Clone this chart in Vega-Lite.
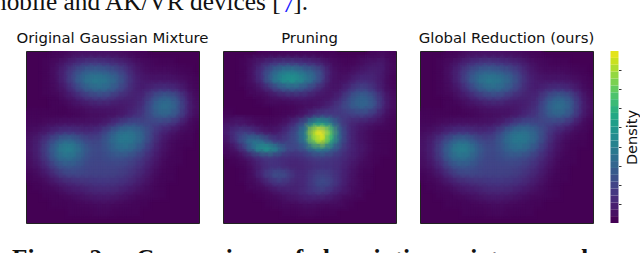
{"$schema":"https://vega.github.io/schema/vega-lite/v6.json","autosize":"none","padding":{"left":26,"top":51,"right":614,"bottom":202},"background":"white",
"config":{"view":{"fill":"#440154","stroke":"#222","strokeWidth":1},"title":{"font":"DejaVu Sans","fontWeight":"normal","fontSize":14.9,"color":"#111","offset":5}},
"datasets":{
"a":[{"x":3,"y":0,"v":1},{"x":4,"y":0,"v":2},{"x":5,"y":0,"v":4},{"x":6,"y":0,"v":5},{"x":7,"y":0,"v":5},{"x":8,"y":0,"v":5},{"x":9,"y":0,"v":5},{"x":10,"y":0,"v":4},{"x":11,"y":0,"v":3},{"x":12,"y":0,"v":2},{"x":13,"y":0,"v":1},
{"x":2,"y":1,"v":1},{"x":3,"y":1,"v":3},{"x":4,"y":1,"v":7},{"x":5,"y":1,"v":11},{"x":6,"y":1,"v":15},{"x":7,"y":1,"v":17},{"x":8,"y":1,"v":17},{"x":9,"y":1,"v":15},{"x":10,"y":1,"v":13},{"x":11,"y":1,"v":10},{"x":12,"y":1,"v":6},{"x":13,"y":1,"v":3},{"x":14,"y":1,"v":2},{"x":15,"y":1,"v":1},{"x":16,"y":1,"v":1},
{"x":2,"y":2,"v":1},{"x":3,"y":2,"v":5},{"x":4,"y":2,"v":11},{"x":5,"y":2,"v":20},{"x":6,"y":2,"v":28},{"x":7,"y":2,"v":32},{"x":8,"y":2,"v":32},{"x":9,"y":2,"v":29},{"x":10,"y":2,"v":24},{"x":11,"y":2,"v":17},{"x":12,"y":2,"v":9},{"x":13,"y":2,"v":5},{"x":14,"y":2,"v":3},{"x":15,"y":2,"v":3},{"x":16,"y":2,"v":3},{"x":17,"y":2,"v":2},{"x":18,"y":2,"v":1},
{"x":2,"y":3,"v":1},{"x":3,"y":3,"v":4},{"x":4,"y":3,"v":11},{"x":5,"y":3,"v":22},{"x":6,"y":3,"v":33},{"x":7,"y":3,"v":40},{"x":8,"y":3,"v":41},{"x":9,"y":3,"v":38},{"x":10,"y":3,"v":31},{"x":11,"y":3,"v":21},{"x":12,"y":3,"v":11},{"x":13,"y":3,"v":7},{"x":14,"y":3,"v":6},{"x":15,"y":3,"v":6},{"x":16,"y":3,"v":6},{"x":17,"y":3,"v":5},{"x":18,"y":3,"v":3},{"x":19,"y":3,"v":1},
{"x":2,"y":4,"v":1},{"x":3,"y":4,"v":3},{"x":4,"y":4,"v":7},{"x":5,"y":4,"v":15},{"x":6,"y":4,"v":24},{"x":7,"y":4,"v":31},{"x":8,"y":4,"v":34},{"x":9,"y":4,"v":32},{"x":10,"y":4,"v":25},{"x":11,"y":4,"v":17},{"x":12,"y":4,"v":10},{"x":13,"y":4,"v":8},{"x":14,"y":4,"v":11},{"x":15,"y":4,"v":14},{"x":16,"y":4,"v":14},{"x":17,"y":4,"v":11},{"x":18,"y":4,"v":6},{"x":19,"y":4,"v":2},
{"x":3,"y":5,"v":1},{"x":4,"y":5,"v":4},{"x":5,"y":5,"v":7},{"x":6,"y":5,"v":12},{"x":7,"y":5,"v":16},{"x":8,"y":5,"v":18},{"x":9,"y":5,"v":17},{"x":10,"y":5,"v":13},{"x":11,"y":5,"v":10},{"x":12,"y":5,"v":9},{"x":13,"y":5,"v":11},{"x":14,"y":5,"v":20},{"x":15,"y":5,"v":29},{"x":16,"y":5,"v":31},{"x":17,"y":5,"v":24},{"x":18,"y":5,"v":12},{"x":19,"y":5,"v":3},
{"x":3,"y":6,"v":1},{"x":4,"y":6,"v":1},{"x":5,"y":6,"v":3},{"x":6,"y":6,"v":4},{"x":7,"y":6,"v":6},{"x":8,"y":6,"v":7},{"x":9,"y":6,"v":7},{"x":10,"y":6,"v":6},{"x":11,"y":6,"v":7},{"x":12,"y":6,"v":9},{"x":13,"y":6,"v":14},{"x":14,"y":6,"v":26},{"x":15,"y":6,"v":36},{"x":16,"y":6,"v":37},{"x":17,"y":6,"v":29},{"x":18,"y":6,"v":14},{"x":19,"y":6,"v":4},
{"x":0,"y":7,"v":1},{"x":1,"y":7,"v":1},{"x":2,"y":7,"v":1},{"x":3,"y":7,"v":1},{"x":4,"y":7,"v":1},{"x":5,"y":7,"v":1},{"x":6,"y":7,"v":2},{"x":7,"y":7,"v":3},{"x":8,"y":7,"v":3},{"x":9,"y":7,"v":4},{"x":10,"y":7,"v":5},{"x":11,"y":7,"v":8},{"x":12,"y":7,"v":12},{"x":13,"y":7,"v":16},{"x":14,"y":7,"v":24},{"x":15,"y":7,"v":31},{"x":16,"y":7,"v":31},{"x":17,"y":7,"v":24},{"x":18,"y":7,"v":12},{"x":19,"y":7,"v":3},
{"x":0,"y":8,"v":2},{"x":1,"y":8,"v":2},{"x":2,"y":8,"v":3},{"x":3,"y":8,"v":4},{"x":4,"y":8,"v":5},{"x":5,"y":8,"v":5},{"x":6,"y":8,"v":5},{"x":7,"y":8,"v":5},{"x":8,"y":8,"v":6},{"x":9,"y":8,"v":9},{"x":10,"y":8,"v":15},{"x":11,"y":8,"v":21},{"x":12,"y":8,"v":23},{"x":13,"y":8,"v":21},{"x":14,"y":8,"v":20},{"x":15,"y":8,"v":19},{"x":16,"y":8,"v":17},{"x":17,"y":8,"v":12},{"x":18,"y":8,"v":5},{"x":19,"y":8,"v":1},
{"x":0,"y":9,"v":3},{"x":1,"y":9,"v":5},{"x":2,"y":9,"v":8},{"x":3,"y":9,"v":12},{"x":4,"y":9,"v":15},{"x":5,"y":9,"v":15},{"x":6,"y":9,"v":13},{"x":7,"y":9,"v":12},{"x":8,"y":9,"v":15},{"x":9,"y":9,"v":23},{"x":10,"y":9,"v":33},{"x":11,"y":9,"v":38},{"x":12,"y":9,"v":37},{"x":13,"y":9,"v":30},{"x":14,"y":9,"v":20},{"x":15,"y":9,"v":12},{"x":16,"y":9,"v":8},{"x":17,"y":9,"v":4},{"x":18,"y":9,"v":2},
{"x":0,"y":10,"v":5},{"x":1,"y":10,"v":9},{"x":2,"y":10,"v":17},{"x":3,"y":10,"v":27},{"x":4,"y":10,"v":34},{"x":5,"y":10,"v":33},{"x":6,"y":10,"v":26},{"x":7,"y":10,"v":20},{"x":8,"y":10,"v":21},{"x":9,"y":10,"v":29},{"x":10,"y":10,"v":38},{"x":11,"y":10,"v":41},{"x":12,"y":10,"v":38},{"x":13,"y":10,"v":30},{"x":14,"y":10,"v":18},{"x":15,"y":10,"v":9},{"x":16,"y":10,"v":4},{"x":17,"y":10,"v":2},{"x":18,"y":10,"v":1},
{"x":0,"y":11,"v":5},{"x":1,"y":11,"v":10},{"x":2,"y":11,"v":21},{"x":3,"y":11,"v":34},{"x":4,"y":11,"v":43},{"x":5,"y":11,"v":42},{"x":6,"y":11,"v":33},{"x":7,"y":11,"v":24},{"x":8,"y":11,"v":22},{"x":9,"y":11,"v":27},{"x":10,"y":11,"v":33},{"x":11,"y":11,"v":35},{"x":12,"y":11,"v":31},{"x":13,"y":11,"v":23},{"x":14,"y":11,"v":14},{"x":15,"y":11,"v":7},{"x":16,"y":11,"v":3},{"x":17,"y":11,"v":1},
{"x":0,"y":12,"v":4},{"x":1,"y":12,"v":9},{"x":2,"y":12,"v":18},{"x":3,"y":12,"v":30},{"x":4,"y":12,"v":37},{"x":5,"y":12,"v":36},{"x":6,"y":12,"v":29},{"x":7,"y":12,"v":22},{"x":8,"y":12,"v":21},{"x":9,"y":12,"v":23},{"x":10,"y":12,"v":25},{"x":11,"y":12,"v":24},{"x":12,"y":12,"v":21},{"x":13,"y":12,"v":16},{"x":14,"y":12,"v":10},{"x":15,"y":12,"v":5},{"x":16,"y":12,"v":2},{"x":17,"y":12,"v":1},
{"x":0,"y":13,"v":3},{"x":1,"y":13,"v":6},{"x":2,"y":13,"v":12},{"x":3,"y":13,"v":21},{"x":4,"y":13,"v":27},{"x":5,"y":13,"v":27},{"x":6,"y":13,"v":23},{"x":7,"y":13,"v":20},{"x":8,"y":13,"v":20},{"x":9,"y":13,"v":20},{"x":10,"y":13,"v":20},{"x":11,"y":13,"v":19},{"x":12,"y":13,"v":16},{"x":13,"y":13,"v":12},{"x":14,"y":13,"v":7},{"x":15,"y":13,"v":3},{"x":16,"y":13,"v":1},
{"x":0,"y":14,"v":1},{"x":1,"y":14,"v":3},{"x":2,"y":14,"v":7},{"x":3,"y":14,"v":13},{"x":4,"y":14,"v":18},{"x":5,"y":14,"v":20},{"x":6,"y":14,"v":20},{"x":7,"y":14,"v":19},{"x":8,"y":14,"v":19},{"x":9,"y":14,"v":19},{"x":10,"y":14,"v":18},{"x":11,"y":14,"v":16},{"x":12,"y":14,"v":13},{"x":13,"y":14,"v":9},{"x":14,"y":14,"v":5},{"x":15,"y":14,"v":2},{"x":16,"y":14,"v":1},
{"x":1,"y":15,"v":1},{"x":2,"y":15,"v":3},{"x":3,"y":15,"v":6},{"x":4,"y":15,"v":9},{"x":5,"y":15,"v":11},{"x":6,"y":15,"v":13},{"x":7,"y":15,"v":14},{"x":8,"y":15,"v":15},{"x":9,"y":15,"v":15},{"x":10,"y":15,"v":14},{"x":11,"y":15,"v":12},{"x":12,"y":15,"v":9},{"x":13,"y":15,"v":6},{"x":14,"y":15,"v":3},{"x":15,"y":15,"v":1},
{"x":2,"y":16,"v":1},{"x":3,"y":16,"v":2},{"x":4,"y":16,"v":4},{"x":5,"y":16,"v":6},{"x":6,"y":16,"v":7},{"x":7,"y":16,"v":9},{"x":8,"y":16,"v":10},{"x":9,"y":16,"v":10},{"x":10,"y":16,"v":9},{"x":11,"y":16,"v":7},{"x":12,"y":16,"v":5},{"x":13,"y":16,"v":3},{"x":14,"y":16,"v":2},{"x":15,"y":16,"v":1},
{"x":3,"y":17,"v":1},{"x":4,"y":17,"v":1},{"x":5,"y":17,"v":2},{"x":6,"y":17,"v":3},{"x":7,"y":17,"v":4},{"x":8,"y":17,"v":5},{"x":9,"y":17,"v":5},{"x":10,"y":17,"v":4},{"x":11,"y":17,"v":3},{"x":12,"y":17,"v":2},{"x":13,"y":17,"v":1},
{"x":5,"y":18,"v":1},{"x":6,"y":18,"v":1},{"x":7,"y":18,"v":1},{"x":8,"y":18,"v":2},{"x":9,"y":18,"v":2},{"x":10,"y":18,"v":1},{"x":11,"y":18,"v":1},{"x":12,"y":18,"v":1}],
"b":[{"x":4,"y":0,"v":1},{"x":5,"y":0,"v":2},{"x":6,"y":0,"v":2},{"x":7,"y":0,"v":2},{"x":8,"y":0,"v":2},{"x":9,"y":0,"v":2},{"x":10,"y":0,"v":2},{"x":11,"y":0,"v":1},{"x":12,"y":0,"v":1},{"x":17,"y":0,"v":2},{"x":18,"y":0,"v":3},{"x":19,"y":0,"v":1},
{"x":2,"y":1,"v":1},{"x":3,"y":1,"v":4},{"x":4,"y":1,"v":9},{"x":5,"y":1,"v":14},{"x":6,"y":1,"v":17},{"x":7,"y":1,"v":18},{"x":8,"y":1,"v":17},{"x":9,"y":1,"v":15},{"x":10,"y":1,"v":13},{"x":11,"y":1,"v":9},{"x":12,"y":1,"v":4},{"x":13,"y":1,"v":2},{"x":14,"y":1,"v":1},{"x":15,"y":1,"v":2},{"x":16,"y":1,"v":4},{"x":17,"y":1,"v":6},{"x":18,"y":1,"v":7},{"x":19,"y":1,"v":2},
{"x":2,"y":2,"v":1},{"x":3,"y":2,"v":6},{"x":4,"y":2,"v":15},{"x":5,"y":2,"v":28},{"x":6,"y":2,"v":38},{"x":7,"y":2,"v":44},{"x":8,"y":2,"v":42},{"x":9,"y":2,"v":36},{"x":10,"y":2,"v":30},{"x":11,"y":2,"v":20},{"x":12,"y":2,"v":7},{"x":13,"y":2,"v":3},{"x":14,"y":2,"v":3},{"x":15,"y":2,"v":6},{"x":16,"y":2,"v":8},{"x":17,"y":2,"v":9},{"x":18,"y":2,"v":7},{"x":19,"y":2,"v":2},
{"x":2,"y":3,"v":1},{"x":3,"y":3,"v":5},{"x":4,"y":3,"v":14},{"x":5,"y":3,"v":30},{"x":6,"y":3,"v":44},{"x":7,"y":3,"v":52},{"x":8,"y":3,"v":50},{"x":9,"y":3,"v":42},{"x":10,"y":3,"v":33},{"x":11,"y":3,"v":19},{"x":12,"y":3,"v":6},{"x":13,"y":3,"v":4},{"x":14,"y":3,"v":6},{"x":15,"y":3,"v":11},{"x":16,"y":3,"v":12},{"x":17,"y":3,"v":10},{"x":18,"y":3,"v":6},{"x":19,"y":3,"v":1},
{"x":3,"y":4,"v":2},{"x":4,"y":4,"v":6},{"x":5,"y":4,"v":13},{"x":6,"y":4,"v":22},{"x":7,"y":4,"v":28},{"x":8,"y":4,"v":28},{"x":9,"y":4,"v":23},{"x":10,"y":4,"v":16},{"x":11,"y":4,"v":9},{"x":12,"y":4,"v":5},{"x":13,"y":4,"v":6},{"x":14,"y":4,"v":12},{"x":15,"y":4,"v":19},{"x":16,"y":4,"v":20},{"x":17,"y":4,"v":14},{"x":18,"y":4,"v":7},{"x":19,"y":4,"v":2},
{"x":4,"y":5,"v":1},{"x":5,"y":5,"v":3},{"x":6,"y":5,"v":5},{"x":7,"y":5,"v":7},{"x":8,"y":5,"v":8},{"x":9,"y":5,"v":8},{"x":10,"y":5,"v":6},{"x":11,"y":5,"v":5},{"x":12,"y":5,"v":6},{"x":13,"y":5,"v":11},{"x":14,"y":5,"v":21},{"x":15,"y":5,"v":30},{"x":16,"y":5,"v":32},{"x":17,"y":5,"v":24},{"x":18,"y":5,"v":12},{"x":19,"y":5,"v":3},
{"x":6,"y":6,"v":1},{"x":7,"y":6,"v":1},{"x":8,"y":6,"v":2},{"x":9,"y":6,"v":3},{"x":10,"y":6,"v":4},{"x":11,"y":6,"v":7},{"x":12,"y":6,"v":11},{"x":13,"y":6,"v":17},{"x":14,"y":6,"v":24},{"x":15,"y":6,"v":31},{"x":16,"y":6,"v":32},{"x":17,"y":6,"v":25},{"x":18,"y":6,"v":12},{"x":19,"y":6,"v":3},
{"x":0,"y":7,"v":1},{"x":6,"y":7,"v":1},{"x":7,"y":7,"v":2},{"x":8,"y":7,"v":3},{"x":9,"y":7,"v":7},{"x":10,"y":7,"v":14},{"x":11,"y":7,"v":18},{"x":12,"y":7,"v":17},{"x":13,"y":7,"v":16},{"x":14,"y":7,"v":17},{"x":15,"y":7,"v":19},{"x":16,"y":7,"v":19},{"x":17,"y":7,"v":14},{"x":18,"y":7,"v":7},{"x":19,"y":7,"v":2},
{"x":0,"y":8,"v":5},{"x":1,"y":8,"v":6},{"x":2,"y":8,"v":5},{"x":3,"y":8,"v":3},{"x":4,"y":8,"v":2},{"x":5,"y":8,"v":2},{"x":6,"y":8,"v":3},{"x":7,"y":8,"v":7},{"x":8,"y":8,"v":15},{"x":9,"y":8,"v":28},{"x":10,"y":8,"v":50},{"x":11,"y":8,"v":56},{"x":12,"y":8,"v":42},{"x":13,"y":8,"v":22},{"x":14,"y":8,"v":13},{"x":15,"y":8,"v":9},{"x":16,"y":8,"v":7},{"x":17,"y":8,"v":5},{"x":18,"y":8,"v":3},{"x":19,"y":8,"v":1},
{"x":0,"y":9,"v":8},{"x":1,"y":9,"v":15},{"x":2,"y":9,"v":18},{"x":3,"y":9,"v":15},{"x":4,"y":9,"v":9},{"x":5,"y":9,"v":6},{"x":6,"y":9,"v":8},{"x":7,"y":9,"v":15},{"x":8,"y":9,"v":24},{"x":9,"y":9,"v":42},{"x":10,"y":9,"v":90},{"x":11,"y":9,"v":100},{"x":12,"y":9,"v":74},{"x":13,"y":9,"v":32},{"x":14,"y":9,"v":14},{"x":15,"y":9,"v":7},{"x":16,"y":9,"v":4},{"x":17,"y":9,"v":2},{"x":18,"y":9,"v":1},
{"x":0,"y":10,"v":5},{"x":1,"y":10,"v":15},{"x":2,"y":10,"v":28},{"x":3,"y":10,"v":38},{"x":4,"y":10,"v":34},{"x":5,"y":10,"v":22},{"x":6,"y":10,"v":15},{"x":7,"y":10,"v":18},{"x":8,"y":10,"v":24},{"x":9,"y":10,"v":40},{"x":10,"y":10,"v":80},{"x":11,"y":10,"v":92},{"x":12,"y":10,"v":64},{"x":13,"y":10,"v":30},{"x":14,"y":10,"v":14},{"x":15,"y":10,"v":7},{"x":16,"y":10,"v":4},{"x":17,"y":10,"v":2},{"x":18,"y":10,"v":1},
{"x":0,"y":11,"v":2},{"x":1,"y":11,"v":6},{"x":2,"y":11,"v":16},{"x":3,"y":11,"v":34},{"x":4,"y":11,"v":50},{"x":5,"y":11,"v":52},{"x":6,"y":11,"v":38},{"x":7,"y":11,"v":22},{"x":8,"y":11,"v":20},{"x":9,"y":11,"v":26},{"x":10,"y":11,"v":38},{"x":11,"y":11,"v":42},{"x":12,"y":11,"v":33},{"x":13,"y":11,"v":21},{"x":14,"y":11,"v":12},{"x":15,"y":11,"v":8},{"x":16,"y":11,"v":5},{"x":17,"y":11,"v":2},{"x":18,"y":11,"v":1},
{"x":1,"y":12,"v":1},{"x":2,"y":12,"v":4},{"x":3,"y":12,"v":9},{"x":4,"y":12,"v":14},{"x":5,"y":12,"v":16},{"x":6,"y":12,"v":14},{"x":7,"y":12,"v":12},{"x":8,"y":12,"v":12},{"x":9,"y":12,"v":14},{"x":10,"y":12,"v":17},{"x":11,"y":12,"v":18},{"x":12,"y":12,"v":16},{"x":13,"y":12,"v":14},{"x":14,"y":12,"v":10},{"x":15,"y":12,"v":7},{"x":16,"y":12,"v":3},{"x":17,"y":12,"v":1},
{"x":2,"y":13,"v":1},{"x":3,"y":13,"v":5},{"x":4,"y":13,"v":10},{"x":5,"y":13,"v":14},{"x":6,"y":13,"v":14},{"x":7,"y":13,"v":11},{"x":8,"y":13,"v":10},{"x":9,"y":13,"v":11},{"x":10,"y":13,"v":13},{"x":11,"y":13,"v":14},{"x":12,"y":13,"v":14},{"x":13,"y":13,"v":12},{"x":14,"y":13,"v":8},{"x":15,"y":13,"v":4},{"x":16,"y":13,"v":2},
{"x":2,"y":14,"v":1},{"x":3,"y":14,"v":4},{"x":4,"y":14,"v":12},{"x":5,"y":14,"v":20},{"x":6,"y":14,"v":25},{"x":7,"y":14,"v":20},{"x":8,"y":14,"v":12},{"x":9,"y":14,"v":12},{"x":10,"y":14,"v":17},{"x":11,"y":14,"v":20},{"x":12,"y":14,"v":17},{"x":13,"y":14,"v":12},{"x":14,"y":14,"v":7},{"x":15,"y":14,"v":3},{"x":16,"y":14,"v":1},
{"x":3,"y":15,"v":2},{"x":4,"y":15,"v":5},{"x":5,"y":15,"v":11},{"x":6,"y":15,"v":15},{"x":7,"y":15,"v":13},{"x":8,"y":15,"v":10},{"x":9,"y":15,"v":12},{"x":10,"y":15,"v":18},{"x":11,"y":15,"v":23},{"x":12,"y":15,"v":19},{"x":13,"y":15,"v":12},{"x":14,"y":15,"v":6},{"x":15,"y":15,"v":3},{"x":16,"y":15,"v":1},
{"x":4,"y":16,"v":1},{"x":5,"y":16,"v":3},{"x":6,"y":16,"v":6},{"x":7,"y":16,"v":8},{"x":8,"y":16,"v":9},{"x":9,"y":16,"v":12},{"x":10,"y":16,"v":15},{"x":11,"y":16,"v":16},{"x":12,"y":16,"v":12},{"x":13,"y":16,"v":8},{"x":14,"y":16,"v":5},{"x":15,"y":16,"v":2},
{"x":5,"y":17,"v":1},{"x":6,"y":17,"v":2},{"x":7,"y":17,"v":4},{"x":8,"y":17,"v":5},{"x":9,"y":17,"v":7},{"x":10,"y":17,"v":7},{"x":11,"y":17,"v":6},{"x":12,"y":17,"v":5},{"x":13,"y":17,"v":3},{"x":14,"y":17,"v":1},
{"x":7,"y":18,"v":1},{"x":8,"y":18,"v":1},{"x":9,"y":18,"v":2},{"x":10,"y":18,"v":2},{"x":11,"y":18,"v":1},{"x":12,"y":18,"v":1}],
"c":[{"v":0,"w":4},{"v":4,"w":8},{"v":8,"w":12},{"v":12,"w":16},{"v":16,"w":20},{"v":20,"w":24},{"v":24,"w":28},{"v":28,"w":32},{"v":32,"w":36},{"v":36,"w":40},{"v":40,"w":44},{"v":44,"w":48},{"v":48,"w":52},{"v":52,"w":56},{"v":56,"w":60},{"v":60,"w":64},{"v":64,"w":68},{"v":68,"w":72},{"v":72,"w":76},{"v":76,"w":80},{"v":80,"w":84},{"v":84,"w":88},{"v":88,"w":92},{"v":92,"w":96},{"v":96,"w":100}]},
"title":{"text":"mobile and AK/VR devices [\u2007].","orient":"top","anchor":"start","frame":"group","font":"Liberation Serif","fontSize":25.3,"color":"#111","dx":-39,"dy":23,"offset":0},
"vconcat":[{"title":{"text":"7","orient":"top","anchor":"start","frame":"group","font":"Liberation Serif","fontSize":25.3,"color":"#1a1aff","dx":256,"dy":-13,"offset":0},
"vconcat":[{"title":{"text":"Figure 2:\u2003Comparison\u2002of\u2002description\u2002mixture\u2002and","orient":"bottom","anchor":"start","frame":"group","font":"Liberation Serif","fontWeight":"bold","fontSize":25.3,"color":"#111","dx":-14,"dy":18},
"bounds":"flush","spacing":24,"hconcat":[
{"title":"Original Gaussian Mixture","width":173,"height":172,"data":{"name":"a"},"layer":[
{"mark":{"type":"rect"},"encoding":{"x":{"field":"x","type":"ordinal","scale":{"domain":[0,1,2,3,4,5,6,7,8,9,10,11,12,13,14,15,16,17,18,19],"paddingInner":0,"paddingOuter":0},"axis":null},"y":{"field":"y","type":"ordinal","scale":{"domain":[0,1,2,3,4,5,6,7,8,9,10,11,12,13,14,15,16,17,18,19],"paddingInner":0,"paddingOuter":0},"axis":null},"color":{"field":"v","type":"quantitative","scale":{"scheme":"viridis","domain":[0,100]},"legend":null}}},
{"mark":{"type":"rect","width":19,"height":19,"opacity":0.25,"clip":true},"encoding":{"x":{"field":"x","type":"ordinal","axis":null},"y":{"field":"y","type":"ordinal","axis":null},"color":{"field":"v","type":"quantitative","legend":null}}},
{"mark":{"type":"rect","width":15,"height":15,"opacity":0.3,"clip":true},"encoding":{"x":{"field":"x","type":"ordinal","axis":null},"y":{"field":"y","type":"ordinal","axis":null},"color":{"field":"v","type":"quantitative","legend":null},"order":[{"field":"y","sort":"descending"},{"field":"x","sort":"descending"}]}},
{"mark":{"type":"rect","width":12,"height":12,"opacity":0.35,"clip":true},"encoding":{"x":{"field":"x","type":"ordinal","axis":null},"y":{"field":"y","type":"ordinal","axis":null},"color":{"field":"v","type":"quantitative","legend":null}}}]},
{"title":"Pruning","width":173,"height":172,"data":{"name":"b"},"layer":[
{"mark":{"type":"rect"},"encoding":{"x":{"field":"x","type":"ordinal","scale":{"domain":[0,1,2,3,4,5,6,7,8,9,10,11,12,13,14,15,16,17,18,19],"paddingInner":0,"paddingOuter":0},"axis":null},"y":{"field":"y","type":"ordinal","scale":{"domain":[0,1,2,3,4,5,6,7,8,9,10,11,12,13,14,15,16,17,18,19],"paddingInner":0,"paddingOuter":0},"axis":null},"color":{"field":"v","type":"quantitative","scale":{"scheme":"viridis","domain":[0,100]},"legend":null}}},
{"mark":{"type":"rect","width":19,"height":19,"opacity":0.25,"clip":true},"encoding":{"x":{"field":"x","type":"ordinal","axis":null},"y":{"field":"y","type":"ordinal","axis":null},"color":{"field":"v","type":"quantitative","legend":null}}},
{"mark":{"type":"rect","width":15,"height":15,"opacity":0.3,"clip":true},"encoding":{"x":{"field":"x","type":"ordinal","axis":null},"y":{"field":"y","type":"ordinal","axis":null},"color":{"field":"v","type":"quantitative","legend":null},"order":[{"field":"y","sort":"descending"},{"field":"x","sort":"descending"}]}},
{"mark":{"type":"rect","width":12,"height":12,"opacity":0.35,"clip":true},"encoding":{"x":{"field":"x","type":"ordinal","axis":null},"y":{"field":"y","type":"ordinal","axis":null},"color":{"field":"v","type":"quantitative","legend":null}}}]},
{"title":"Global Reduction (ours)","width":173,"height":172,"data":{"name":"a"},"layer":[
{"mark":{"type":"rect"},"encoding":{"x":{"field":"x","type":"ordinal","scale":{"domain":[0,1,2,3,4,5,6,7,8,9,10,11,12,13,14,15,16,17,18,19],"paddingInner":0,"paddingOuter":0},"axis":null},"y":{"field":"y","type":"ordinal","scale":{"domain":[0,1,2,3,4,5,6,7,8,9,10,11,12,13,14,15,16,17,18,19],"paddingInner":0,"paddingOuter":0},"axis":null},"color":{"field":"v","type":"quantitative","scale":{"scheme":"viridis","domain":[0,100]},"legend":null}}},
{"mark":{"type":"rect","width":19,"height":19,"opacity":0.25,"clip":true},"encoding":{"x":{"field":"x","type":"ordinal","axis":null},"y":{"field":"y","type":"ordinal","axis":null},"color":{"field":"v","type":"quantitative","legend":null}}},
{"mark":{"type":"rect","width":15,"height":15,"opacity":0.3,"clip":true},"encoding":{"x":{"field":"x","type":"ordinal","axis":null},"y":{"field":"y","type":"ordinal","axis":null},"color":{"field":"v","type":"quantitative","legend":null},"order":[{"field":"y","sort":"descending"},{"field":"x","sort":"descending"}]}},
{"mark":{"type":"rect","width":12,"height":12,"opacity":0.35,"clip":true},"encoding":{"x":{"field":"x","type":"ordinal","axis":null},"y":{"field":"y","type":"ordinal","axis":null},"color":{"field":"v","type":"quantitative","legend":null}}}]},
{"width":8,"height":172,"data":{"name":"c"},"view":{"stroke":null,"fill":null},"mark":{"type":"rect","xOffset":-6.5,"x2Offset":-6.5},"encoding":{"x":{"datum":0,"type":"quantitative","scale":{"domain":[0,1]},"axis":null},"x2":{"datum":1},"y":{"field":"v","type":"quantitative","scale":{"domain":[0,100]},"axis":{"orient":"right","offset":-6.5,"values":[11.1,22.2,33.3,44.4,55.6,66.7,77.8,88.9],"labels":false,"grid":false,"domain":false,"tickSize":2.5,"tickColor":"#333","title":"Density","titleFont":"DejaVu Sans","titleFontWeight":"normal","titleFontSize":14.5,"titleColor":"#111","titleAngle":270,"titlePadding":18}},"y2":{"field":"w"},"color":{"field":"v","type":"quantitative","legend":null}}}
]}]}]}
